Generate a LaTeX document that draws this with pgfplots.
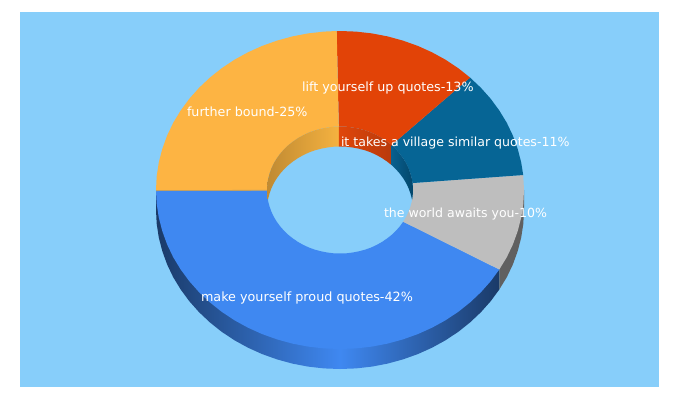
\documentclass[border=0pt]{standalone}
\usepackage{fontspec}
\setmainfont{DejaVu Sans}
\usepackage{pgfplots}
\pgfplotsset{compat=1.18}
\definecolor{panel}{HTML}{87CEFA}
\definecolor{cblue}{HTML}{3F88F1}
\definecolor{cgrey}{HTML}{BEBEBE}
\definecolor{cteal}{HTML}{066595}
\definecolor{cred}{HTML}{E24307}
\definecolor{cyel}{HTML}{FDB443}
\definecolor{wdark}{HTML}{1A3A68}
\definecolor{wgrey}{HTML}{606060}
\definecolor{yl}{HTML}{C08A32}
\definecolor{yr}{HTML}{F5B240}
\definecolor{rl}{HTML}{E0460A}
\definecolor{rr}{HTML}{B83A0C}
\definecolor{tl}{HTML}{085F8E}
\definecolor{tr}{HTML}{03476B}
\definecolor{seam}{HTML}{C29F62}
\tikzset{lab/.style={font=\fontsize{#1}{15}\selectfont,text=white,anchor=base west,inner sep=0pt,outer sep=0pt}}
\begin{document}
\begin{tikzpicture}
\begin{axis}[hide axis,x=1pt,y=1pt,xmin=0,xmax=680,ymin=0,ymax=400,y dir=reverse,clip=true,no markers]
\addplot[draw=none,fill=white] coordinates {(0,0)(680,0)(680,400)(0,400)};
\addplot[draw=none,fill=panel] coordinates {(20,12)(659,12)(659,387)(20,387)};
% outer walls
\addplot[draw=none,left color=wdark,right color=cblue] coordinates {(156,191)(156,210)(156.7,223.9)(158.8,237.6)(162.3,251.1)(167.1,264.4)(173.2,277.2)(180.7,289.5)(189.3,301.2)(199.1,312.2)(209.9,322.4)(221.7,331.8)(234.5,340.3)(248,347.7)(262.2,354.1)(277.1,359.4)(292.4,363.6)(308.1,366.6)(324,368.4)(340,369)(340,300)(200,191)};
\addplot[draw=none,left color=cblue,right color=wdark] coordinates {(340,300)(340,369)(356,368.4)(371.9,366.6)(387.6,363.6)(402.9,359.4)(417.8,354.1)(432,347.7)(445.5,340.3)(458.3,331.8)(470.1,322.4)(480.9,312.2)(490.7,301.2)(499.3,289.5)(499.3,269)(450,270)};
\addplot[draw=none,fill=wgrey] coordinates {(499.3,269)(499.3,289.5)(506.8,277.2)(512.9,264.4)(517.7,251.1)(521.2,237.6)(523.3,223.9)(524,210)(524,190)(500,200)};
% top faces
\addplot[draw=none,fill=cblue] coordinates {(156,190.8)(156.7,203.9)(158.8,217.6)(162.3,231.1)(167.1,244.4)(173.2,257.2)(180.7,269.5)(189.3,281.2)(199.1,292.2)(209.9,302.4)(221.7,311.8)(234.5,320.3)(248,327.7)(262.2,334.1)(277.1,339.4)(292.4,343.6)(308.1,346.6)(324,348.4)(340,349)(356,348.4)(371.9,346.6)(387.6,343.6)(402.9,339.4)(417.8,334.1)(432,327.7)(445.5,320.3)(458.3,311.8)(470.1,302.4)(480.9,292.2)(490.7,281.2)(499.3,269.5)(403.2,221.75)(399.8,226.4)(395.9,230.8)(391.6,234.9)(386.9,238.6)(381.9,242)(376.5,245)(370.9,247.6)(365,249.7)(358.9,251.3)(352.7,252.5)(346.4,253.3)(340,253.5)(333.6,253.3)(327.3,252.5)(321.1,251.3)(315,249.7)(309.1,247.6)(303.5,245)(298.1,242)(293.1,238.6)(288.4,234.9)(284.1,230.8)(280.2,226.4)(276.8,221.75)(273.8,216.8)(271.4,211.7)(269.5,206.4)(268.1,201)(267.3,195.5)(267,190.3)};
\addplot[draw=none,fill=cgrey] coordinates {(499.3,269.5)(506.8,257.2)(512.9,244.4)(517.7,231.1)(521.2,217.6)(523.3,203.9)(524,190)(523.2,175)(413,183)(413,190)(412.7,195.5)(411.9,201)(410.5,206.4)(408.6,211.7)(406.2,216.8)(403.2,221.75)};
\addplot[draw=none,fill=cteal] coordinates {(470.1,77.6)(480.9,87.8)(490.7,98.8)(499.3,110.5)(506.8,122.8)(512.9,135.6)(517.7,148.9)(521.2,162.4)(523.2,175)(413,183)(412.7,184.5)(411.9,179)(410.5,173.6)(408.6,168.3)(406.2,163.2)(403.2,158.25)(399.8,153.6)(395.9,149.2)(391.6,145.1)};
\addplot[draw=none,fill=cred] coordinates {(336.7,31)(340,31)(356,31.6)(371.9,33.4)(387.6,36.4)(402.9,40.6)(417.8,45.9)(432,52.3)(445.5,59.7)(458.3,68.2)(470.1,77.6)(391.6,145.1)(386.9,141.4)(381.9,138)(376.5,135)(370.9,132.4)(365,130.3)(358.9,128.7)(352.7,127.5)(346.4,126.7)(340,126.5)(338.8,126.5)};
\addplot[draw=none,fill=cyel] coordinates {(156,190.8)(156,190)(156.7,176.1)(158.8,162.4)(162.3,148.9)(167.1,135.6)(173.2,122.8)(180.7,110.5)(189.3,98.8)(199.1,87.8)(209.9,77.6)(221.7,68.2)(234.5,59.7)(248,52.3)(262.2,45.9)(277.1,40.6)(292.4,36.4)(308.1,33.4)(324,31.6)(336.7,31)(338.8,126.5)(333.6,126.7)(327.3,127.5)(321.1,128.7)(315,130.3)(309.1,132.4)(303.5,135)(298.1,138)(293.1,141.4)(288.4,145.1)(284.1,149.2)(280.2,153.6)(276.8,158.25)(273.8,163.2)(271.4,168.3)(269.5,173.6)(268.1,179)(267.3,184.5)(267,190.3)};
\addplot[line width=0.8pt,draw=seam] coordinates {(156,190.6)(267,190.3)};
% inner walls
\addplot[draw=none,left color=yl,right color=yr] coordinates {(338.8,126.5)(333.6,126.7)(327.3,127.5)(321.1,128.7)(315,130.3)(309.1,132.4)(303.5,135)(298.1,138)(293.1,141.4)(288.4,145.1)(284.1,149.2)(280.2,153.6)(276.8,158.25)(273.8,163.2)(271.4,168.3)(269.5,173.6)(268.1,179)(267.3,184.5)(267,190.3)(267.3,195.5)(267.9,200)(268.1,199)(269.5,193.6)(271.4,188.3)(273.8,183.2)(276.8,178.25)(280.2,173.6)(284.1,169.2)(288.4,165.1)(293.1,161.4)(298.1,158)(303.5,155)(309.1,152.4)(315,150.3)(321.1,148.7)(327.3,147.5)(333.6,146.7)(338.8,146.5)};
\addplot[draw=none,left color=rl,right color=rr] coordinates {(338.8,126.5)(340,126.5)(346.4,126.7)(352.7,127.5)(358.9,128.7)(365,130.3)(370.9,132.4)(376.5,135)(381.9,138)(386.9,141.4)(391.6,145.1)(391.6,165.1)(386.9,161.4)(381.9,158)(376.5,155)(370.9,152.4)(365,150.3)(358.9,148.7)(352.7,147.5)(346.4,146.7)(340,146.5)(338.8,146.5)};
\addplot[draw=none,left color=tl,right color=tr] coordinates {(391.6,145.1)(395.9,149.2)(399.8,153.6)(403.2,158.25)(406.2,163.2)(408.6,168.3)(410.5,173.6)(411.9,179)(412.7,184.5)(413,190)(412.7,195.5)(412.1,200)(411.9,199)(410.5,193.6)(408.6,188.3)(406.2,183.2)(403.2,178.25)(399.8,173.6)(395.9,169.2)(391.6,165.1)};
% labels
\node[lab=12.7] at (axis cs:302,91) {lift yourself up quotes-13\%};
\node[lab=12.68] at (axis cs:187,116) {further bound-25\%};
\node[lab=12.56] at (axis cs:341,146) {it takes a village similar quotes-11\%};
\node[lab=12.54] at (axis cs:384,217) {the world awaits you-10\%};
\node[lab=12.76] at (axis cs:201,301) {make yourself proud quotes-42\%};
\end{axis}
\end{tikzpicture}
\end{document}
